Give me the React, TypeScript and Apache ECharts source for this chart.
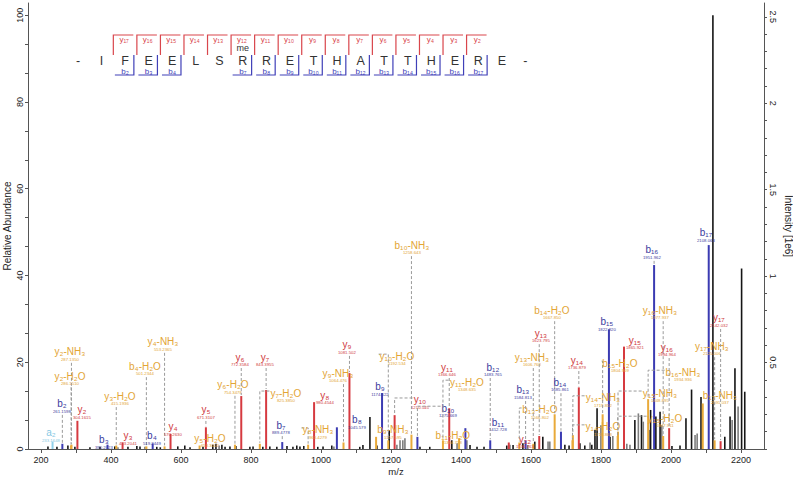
import React, { useEffect, useRef } from "react";
import * as echarts from "echarts";

const FONT = '"Liberation Sans", Arial, Helvetica, sans-serif';

// ---- peptide ----
const sequence = ["I","F","E","E","L","S","R","R","E","T","H","A","T","T","H","E","R","E"];
const yIonNumbers = [17,16,15,14,13,12,11,10,9,8,7,6,5,4,3,2];
const bIonNumbers = [2,3,4,7,8,9,10,11,12,13,14,15,16,17];
const modifiedResidue = 7;
const modificationText = "me";

// ---- annotated fragment ions ----
const ionNames = ["a2","b2","y2-NH3","y2-H2O","y2","b3","y3-H2O","y3","b4-H2O","b4","y4-NH3","y4","y5-H2O","y5","y6-H2O","y6","y7-H2O","y7","b7","y8-NH3","y8","b8","y9-NH3","y9","b9-NH3","b9","y10-H2O","y10","b10-NH3","b10","b11-H2O","y11-H2O","y11","b11","b12","y12","b13-H2O","b13","y13-NH3","y13","b14-H2O","b14","y14-H2O","y14-NH3","y14","b15-H2O","b15","y15-H2O","y15-NH3","y15","b16-NH3","b16","y16-NH3","y16","b17-NH3","b17","y17-NH3","y17"];
const ionKinds = ["a","b","loss","loss","y","b","loss","y","loss","b","loss","y","loss","y","loss","y","loss","y","b","loss","y","b","loss","y","loss","b","loss","y","loss","b","loss","loss","y","b","b","y","loss","b","loss","y","loss","b","loss","loss","y","loss","b","loss","loss","y","loss","b","loss","y","loss","b","loss","y"];
const ionMz = [233.1648,261.1598,287.135,286.151,304.1615,390.2023,415.1936,433.2041,501.2344,519.2449,553.2365,570.263,653.3002,671.3107,754.3478,772.3584,825.385,843.3955,889.4778,963.4279,980.4544,1045.579,1064.476,1081.502,1157.595,1174.622,1192.534,1210.545,1258.643,1275.669,1394.718,1348.635,1366.646,1412.728,1483.765,1536.763,1566.802,1584.813,1606.768,1623.795,1667.85,1685.861,1718.868,1719.852,1736.879,1804.909,1822.92,1847.911,1848.895,1865.921,1934.936,1951.962,1977.937,1994.964,2091.037,2108.063,2125.006,2142.032];
const ionRel = [1.7,1.2,1.0,0.8,6.5,1.0,0.8,1.5,0.6,1.3,0.6,3.5,0.8,5.0,1.0,12.2,1.2,13.6,1.6,1.0,10.8,5.0,1.5,17.5,2.8,12.9,2.0,7.8,3.3,2.8,2.5,2.0,9.4,4.8,2.0,1.5,1.5,2.0,1.2,3.0,8.0,4.0,2.0,3.2,14.2,8.0,27.6,3.0,4.0,23.6,11.5,42.4,3.0,4.8,10.5,47.0,2.0,1.8];
const ionLabelMz = [228.6,260,282.9,282.9,317.1,380,425.7,448.6,497.1,517.1,548.6,577.1,682.9,671.4,748.6,768.6,900,840,885.7,991.4,1011.4,1102.9,1048.6,1074.3,1205.7,1168.6,1217.1,1282.9,1260,1362.9,1377,1417,1360,1505.7,1491.4,1582.9,1625.7,1577.1,1602.9,1628.6,1660,1682.9,1805.7,1805.7,1731.4,1854.3,1817.1,1982.9,1968.6,1897.1,2034.3,1945.7,1968.6,1988.6,2140,2100,2117,2137];
const ionLabelRel = [3.7,10.4,22.4,16.8,9.0,2.1,12.2,3.0,19.1,3.0,24.7,5.1,2.5,9.0,14.8,21.2,12.9,21.2,5.5,4.4,12.4,6.7,17.5,24.0,4.4,14.3,21.4,11.3,47.0,9.4,3.2,15.4,18.9,6.2,18.9,2.3,9.0,13.6,21.2,26.7,32.0,15.4,5.1,11.8,20.5,19.8,29.3,7.1,12.9,25.1,17.7,45.9,32.0,23.5,12.4,49.8,23.7,30.2];

// ---- unassigned peaks (0 = black, 1 = grey) ----
const peakMz = [220,245.7,277,297,340,368.6,411,420,448.6,474,483,497,531,541,591,611,626,663,691,700,709,717,726,740,757,797,806,834,854,874,903,920,931,940,951,991,1006,1031,1037,1111,1120,1140,1160,1195,1217,1226,1234,1240,1283,1311,1374,1389,1417,1426,1446,1466,1531,1540,1549,1577,1591,1611,1634,1649,1654,1697,1709,1740,1754,1769,1774,1783,1789,1800,1826,1834,1874,1883,1897,1907,1916,1921,1938,1942,1957,1969,1974,2003,2026,2043,2059,2069,2075,2086,2120,2154,2169,2175,2183,2192,2202,2211];
const peakRel = [0.6,0.5,0.8,0.5,0.4,0.5,0.6,0.4,0.5,0.7,0.6,0.5,0.5,0.4,0.6,0.8,0.4,0.5,1.0,1.2,0.8,1.0,0.5,0.6,0.7,0.5,0.6,0.5,0.6,0.5,0.7,0.5,0.8,0.6,0.7,0.5,0.6,0.8,0.6,0.5,0.9,7.4,0.8,4.4,1.0,2.0,2.0,2.5,0.5,0.5,2.0,1.3,2.0,0.9,0.5,0.5,0.8,1.0,0.9,1.3,0.9,1.7,2.8,1.7,1.7,1.0,0.8,1.3,0.8,1.5,1.0,4.4,9.4,5.5,2.8,3.0,1.2,1.0,6.7,8.2,7.8,6.3,4.4,9.0,7.5,8.6,5.5,0.7,0.8,7.1,13.7,3.2,3.6,12.0,100,2.8,7.5,6.7,18.6,9.8,41.6,13.2];
const peakShade = [0,0,0,0,0,0,0,1,0,0,0,1,0,0,0,0,0,0,0,0,1,0,0,0,0,0,0,0,0,0,0,0,0,0,0,0,0,0,1,0,0,0,0,0,1,1,1,1,0,0,0,1,1,0,0,0,0,1,0,0,1,0,0,1,1,0,0,0,0,1,0,0,0,1,0,1,1,1,0,1,0,1,1,0,0,0,1,0,0,0,0,1,1,0,0,0,0,1,0,1,0,0];

// ---- axes ----
const xTickValues = [200,300,400,500,600,700,800,900,1000,1100,1200,1300,1400,1500,1600,1700,1800,1900,2000,2100,2200];
const xLabelValues = [200,400,600,800,1000,1200,1400,1600,1800,2000,2200];
const leftLabelValues = [0,20,40,60,80,100];
const rightLabelValues = [0.5,1,1.5,2,2.5];

const KIND_COLOR: Record<string, string> = { y: "#d63a40", b: "#3b3bb2", loss: "#e9aa3a", a: "#8fd0ea" };
const KIND_TEXT: Record<string, string> = { y: "#cf3b41", b: "#3c3c9e", loss: "#e3a535", a: "#86c8e3" };
const SHADE = ["#151515", "#7d7d7d"];

const SUBS = "₀₁₂₃₄₅₆₇₈₉";
const sub = (s: string) => s.replace(/[0-9]/g, (d) => SUBS[Number(d)]);

function nameHalfWidth(name: string) {
  let w = 0;
  for (const ch of name) {
    if (/[0-9]/.test(ch)) w += 3.6;
    else if (ch === "-") w += 3.4;
    else if (/[NHO]/.test(ch)) w += 7.4;
    else w += 5.6;
  }
  return w / 2;
}

function buildDiagram() {
  const els: any[] = [];
  const x0 = 78, dx = 23.55, yMid = 55, yTop = 35, yBot = 75;
  const tokens = ["-", ...sequence, "-"];
  tokens.forEach((t, i) => {
    els.push({
      type: "text", x: x0 + i * dx, y: 60.5,
      style: { text: t, font: `12.5px ${FONT}`, fill: "#333", align: "center", verticalAlign: "middle", textAlign: "center", textVerticalAlign: "middle" },
    });
  });
  els.push({
    type: "text", x: x0 + modifiedResidue * dx, y: 48,
    style: { text: modificationText, font: `9px ${FONT}`, fill: "#333", align: "center", verticalAlign: "middle", textAlign: "center", textVerticalAlign: "middle" },
  });
  const n = sequence.length;
  yIonNumbers.forEach((yn) => {
    const k = n - yn;
    const xb = x0 + k * dx + dx / 2;
    els.push({ type: "polyline", shape: { points: [[xb, yMid], [xb, yTop], [xb + 20, yTop]] }, style: { stroke: "#d9464c", lineWidth: 1.2, fill: null } });
    els.push({
      type: "text", x: xb + dx / 2 - 1, y: 39.5,
      style: { text: "y" + sub(String(yn)), font: `8px ${FONT}`, fill: "#d9464c", align: "center", verticalAlign: "middle", textAlign: "center", textVerticalAlign: "middle" },
    });
  });
  bIonNumbers.forEach((bn) => {
    const xb = x0 + bn * dx + dx / 2 - 3;
    els.push({ type: "polyline", shape: { points: [[xb, yMid], [xb, yBot], [xb - 19, yBot]] }, style: { stroke: "#4040b8", lineWidth: 1.2, fill: null } });
    els.push({
      type: "text", x: x0 + bn * dx, y: 71,
      style: { text: "b" + sub(String(bn)), font: `8px ${FONT}`, fill: "#4040b8", align: "center", verticalAlign: "middle", textAlign: "center", textVerticalAlign: "middle" },
    });
  });
  return els;
}

export default function App() {
  const ref = useRef<HTMLDivElement>(null);
  useEffect(() => {
    if (!ref.current) return;
    const chart = echarts.init(ref.current, undefined, { renderer: "svg" });

    const leftTicks: number[] = [];
    for (let i = 0; i < leftLabelValues.length - 1; i++) {
      const a = leftLabelValues[i], b = leftLabelValues[i + 1];
      for (let j = 0; j < 3; j++) leftTicks.push(a + ((b - a) * j) / 3);
    }
    leftTicks.push(leftLabelValues[leftLabelValues.length - 1]);
    const rightTicks: number[] = [];
    for (let i = 0; i <= 25; i++) rightTicks.push(Math.round(i * 10) / 100);

    const ionData = ionMz.map((m, i) => [m, ionRel[i], ionLabelMz[i], ionLabelRel[i], i]);
    const otherData = peakMz.map((m, i) => [m, peakRel[i], peakShade[i]]);

    const axisColor = "#555";
    const plain = (v: number) => String(v);
    const option: any = {
      animation: false,
      grid: { left: 28, right: 29, top: 3, bottom: 29, containLabel: false, outerBoundsMode: "none" },
      xAxis: {
        type: "value", min: 163, max: 2266,
        name: "m/z", nameLocation: "middle", nameGap: 17.5, nameMoveOverlap: false,
        nameTextStyle: { fontSize: 9.5, color: "#222", fontFamily: FONT },
        axisLine: { show: true, onZero: false, lineStyle: { color: axisColor } },
        axisTick: { show: true, length: 4, customValues: xTickValues, lineStyle: { color: axisColor } },
        axisLabel: { customValues: xLabelValues, formatter: plain, fontSize: 9, color: "#222", margin: 6.5, fontFamily: FONT },
        splitLine: { show: false },
      },
      yAxis: [
        {
          type: "value", min: 0, max: 102.8, position: "left",
          name: "Relative Abundance", nameLocation: "middle", nameGap: 16, nameRotate: 90, nameMoveOverlap: false,
          nameTextStyle: { fontSize: 10, color: "#222", fontFamily: FONT },
          axisLine: { show: true, lineStyle: { color: axisColor } },
          axisTick: { show: true, length: 3, customValues: leftTicks, lineStyle: { color: axisColor } },
          axisLabel: { customValues: leftLabelValues, formatter: plain, rotate: 90, fontSize: 9, color: "#222", margin: 4, fontFamily: FONT },
          splitLine: { show: false },
        },
        {
          type: "value", min: 0, max: 2.58, position: "right",
          name: "Intensity [1e6]", nameLocation: "middle", nameGap: 19, nameRotate: -90, nameMoveOverlap: false,
          nameTextStyle: { fontSize: 10, color: "#222", fontFamily: FONT },
          axisLine: { show: true, lineStyle: { color: axisColor } },
          axisTick: { show: true, length: 3, customValues: rightTicks, lineStyle: { color: axisColor } },
          axisLabel: { customValues: rightLabelValues, formatter: plain, rotate: -90, fontSize: 9, color: "#222", margin: 4, fontFamily: FONT },
          splitLine: { show: false },
        },
      ],
      graphic: buildDiagram(),
      series: [
        {
          type: "custom", name: "unassigned", xAxisIndex: 0, yAxisIndex: 0,
          encode: { x: 0, y: 1 }, data: otherData, z: 2,
          renderItem: (params: any, api: any) => {
            const base = api.coord([api.value(0), 0]);
            const top = api.coord([api.value(0), api.value(1)]);
            const w = 1.6;
            return { type: "rect", shape: { x: base[0] - w / 2, y: top[1], width: w, height: Math.max(base[1] - top[1], 0.6) }, style: { fill: SHADE[api.value(2)] } };
          },
        },
        {
          type: "custom", name: "ions", xAxisIndex: 0, yAxisIndex: 0,
          encode: { x: 0, y: 1 }, data: ionData, z: 3,
          renderItem: (params: any, api: any) => {
            const i = api.value(4);
            const base = api.coord([api.value(0), 0]);
            const top = api.coord([api.value(0), api.value(1)]);
            const w = 2;
            return { type: "rect", shape: { x: base[0] - w / 2, y: top[1], width: w, height: Math.max(base[1] - top[1], 0.6) }, style: { fill: KIND_COLOR[ionKinds[i]] } };
          },
        },
        {
          type: "custom", name: "labels", xAxisIndex: 0, yAxisIndex: 0,
          encode: { x: 2, y: 3 }, data: ionData, z: 4, clip: false,
          renderItem: (params: any, api: any) => {
            const i = api.value(4);
            const peak = api.coord([api.value(0), api.value(1)]);
            const lab = api.coord([api.value(2), api.value(3)]);
            const name = ionNames[i];
            const col = KIND_TEXT[ionKinds[i]];
            const children: any[] = [];
            const dash = { stroke: "#9a9a9a", lineWidth: 1, lineDash: [3, 2], fill: null };
            if (peak[1] > lab[1] + 12) {
              if (Math.abs(lab[0] - peak[0]) <= 6) {
                children.push({ type: "line", shape: { x1: peak[0], y1: lab[1] + 11, x2: peak[0], y2: peak[1] - 1 }, style: dash });
              } else {
                const hw = nameHalfWidth(name) + 1;
                const sx = lab[0] > peak[0] ? lab[0] - hw : lab[0] + hw;
                children.push({ type: "polyline", shape: { points: [[sx, lab[1] - 2], [peak[0], lab[1] - 2], [peak[0], peak[1] - 1]] }, style: dash });
              }
            }
            children.push({ type: "text", style: { text: sub(name), x: lab[0], y: lab[1], font: `10px ${FONT}`, fill: col, align: "center", verticalAlign: "middle" } });
            children.push({ type: "text", style: { text: ionMz[i].toPrecision(7), x: lab[0], y: lab[1] + 7.5, font: `4.3px ${FONT}`, fill: col, align: "center", verticalAlign: "middle" } });
            return { type: "group", children };
          },
        },
      ],
    };
    chart.setOption(option);
    return () => chart.dispose();
  }, []);
  return <div ref={ref} style={{ position: "fixed", left: 0, top: 0, width: 793, height: 478, background: "#fff" }} />;
}
